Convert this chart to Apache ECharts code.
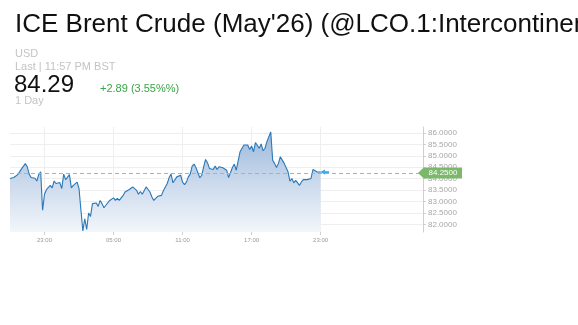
<!DOCTYPE html>
<html><head><meta charset="utf-8">
<script src="https://cdn.jsdelivr.net/npm/echarts@6/dist/echarts.min.js"></script>
<style>
html,body{margin:0;padding:0;background:#fff;width:578px;height:325px;overflow:hidden;font-family:Arial,"Liberation Sans",sans-serif}
#chart{position:absolute;left:0;top:0;width:578px;height:325px}
.t{position:absolute;white-space:nowrap;line-height:1}
</style></head><body>
<div id="chart"></div>
<div class="t" style="left:15px;top:10px;font-size:26px;color:#111">ICE Brent Crude (May'26) (@LCO.1:Intercontinental Exchange)</div>
<div class="t" style="left:15px;top:48px;font-size:11px;color:#c4c4c4">USD</div>
<div class="t" style="left:15px;top:61px;font-size:11px;color:#c4c4c4">Last | 11:57 PM BST</div>
<div class="t" style="left:14px;top:72px;font-size:24px;color:#111">84.29</div>
<div class="t" style="left:100px;top:83px;font-size:11px;color:#3aa547">+2.89 (3.55%%)</div>
<div class="t" style="left:15px;top:95px;font-size:11px;color:#c4c4c4">1 Day</div>
<script>
// Time series: 10-minute bars starting 20:00 (previous day)
const startHour = 20;
const stepMinutes = 10;
const prices = [
 84.01,84.02,84.05,84.11,84.18,84.30,84.43,84.48,84.66,84.52,
 84.20,84.05,84.11,84.02,83.90,84.18,84.30,82.62,83.32,83.52,
 83.49,83.71,83.60,83.90,83.79,83.86,83.83,83.57,84.20,83.96,
 84.01,84.18,83.60,83.71,83.79,83.85,83.57,82.62,81.72,82.25,
 81.78,82.50,82.35,82.91,82.98,82.94,82.79,83.05,82.91,82.73,
 82.84,82.91,83.05,83.08,83.16,83.05,83.14,83.05,83.13,83.27,
 83.42,83.38,83.52,83.60,83.64,83.60,83.49,83.32,83.44,83.32,
 83.35,83.64,83.57,83.42,83.20,83.05,83.02,83.23,83.23,83.27,
 83.47,83.52,83.79,84.05,84.20,83.82,83.85,84.08,84.01,84.15,
 83.85,83.74,83.85,84.08,84.20,84.55,84.64,84.48,84.26,84.04,
 84.15,84.52,84.84,84.70,84.45,84.49,84.40,84.55,84.40,84.52,
 84.52,84.48,84.52,84.37,84.05,84.26,84.49,84.64,84.37,84.45,
 85.18,85.33,85.47,85.43,85.47,85.28,85.43,85.18,85.58,85.66,
 85.33,85.52,85.22,85.33,85.62,85.84,86.04,84.81,84.67,84.49,
 84.67,84.96,85.03,84.67,84.64,84.30,83.89,84.01,83.82,83.93,
 83.90,83.71,83.86,83.96,83.90,83.96,83.96,84.01,84.40,84.43,
 84.30,84.26,84.29
];
const xTickHours = [23, 29, 35, 41, 47];
const yTicks = [82, 82.5, 83, 83.5, 84, 84.5, 85, 85.5, 86];
const flagValue = 84.25;

const seriesData = prices.map((p, i) => [startHour + i * stepMinutes / 60, p]);
const last = seriesData[seriesData.length - 1];
const xMin = 20, xMax = 55.9;

const chart = echarts.init(document.getElementById('chart'), null, {renderer: 'canvas'});
chart.setOption({
  animation: false,
  grid: {left: 10, right: 155, top: 127, bottom: 93},
  xAxis: {
    type: 'value', min: xMin, max: xMax,
    axisLine: {show: false},
    axisTick: {show: true, length: 3, lineStyle: {color: '#d0d0d0'}, customValues: xTickHours},
    axisLabel: {customValues: xTickHours, fontSize: 6, color: '#999', margin: 5,
      formatter: v => String(Math.round(v) % 24).padStart(2, '0') + ':00'},
    splitLine: {show: true, lineStyle: {color: '#eeeeee', width: 1}}
  },
  yAxis: {
    type: 'value', position: 'right', min: 81.67, max: 86.26,
    axisLine: {show: true, lineStyle: {color: '#d0d0d0'}},
    axisTick: {show: true, length: 3, lineStyle: {color: '#d0d0d0'}, customValues: yTicks},
    axisLabel: {customValues: yTicks, fontSize: 8, color: '#a8a8a8', margin: 5,
      formatter: v => v.toFixed(4)},
    splitLine: {show: true, lineStyle: {color: '#eeeeee', width: 1}}
  },
  series: [{
    type: 'line',
    clip: false,
    data: seriesData,
    showSymbol: false,
    lineStyle: {color: '#2a78b8', width: 1.1},
    areaStyle: {
      opacity: 1,
      color: new echarts.graphic.LinearGradient(0, 0, 0, 1, [
        {offset: 0, color: '#9bb9db'},
        {offset: 0.45, color: '#c6d6ea'},
        {offset: 1, color: '#f3f6fb'}
      ])
    },
    markLine: {
      silent: true, symbol: ['none', 'none'],
      label: {show: false},
      lineStyle: {type: [4, 3], color: '#8fcc6e', width: 1},
      data: [{yAxis: flagValue}]
    },
    markPoint: {
      silent: true,
      data: [
        {coord: [xMax, flagValue], symbol: 'path://M0,6 L6,0 L46,0 L46,12 L6,12 Z',
         symbolSize: [44, 11], symbolOffset: [17, 0],
         itemStyle: {color: '#7cb86a'},
         label: {show: true, position: 'inside', formatter: flagValue.toFixed(4), color: '#fff', fontSize: 8, offset: [3, 0]}},
        {coord: last, symbol: 'path://M0,3 L6,0 L6,2 L11,2 L11,4 L6,4 L6,6 Z',
         symbolSize: [9, 5], symbolOffset: [4, 0],
         itemStyle: {color: '#3aa8e4'}, label: {show: false}}
      ]
    }
  }]
});
</script>
</body></html>
